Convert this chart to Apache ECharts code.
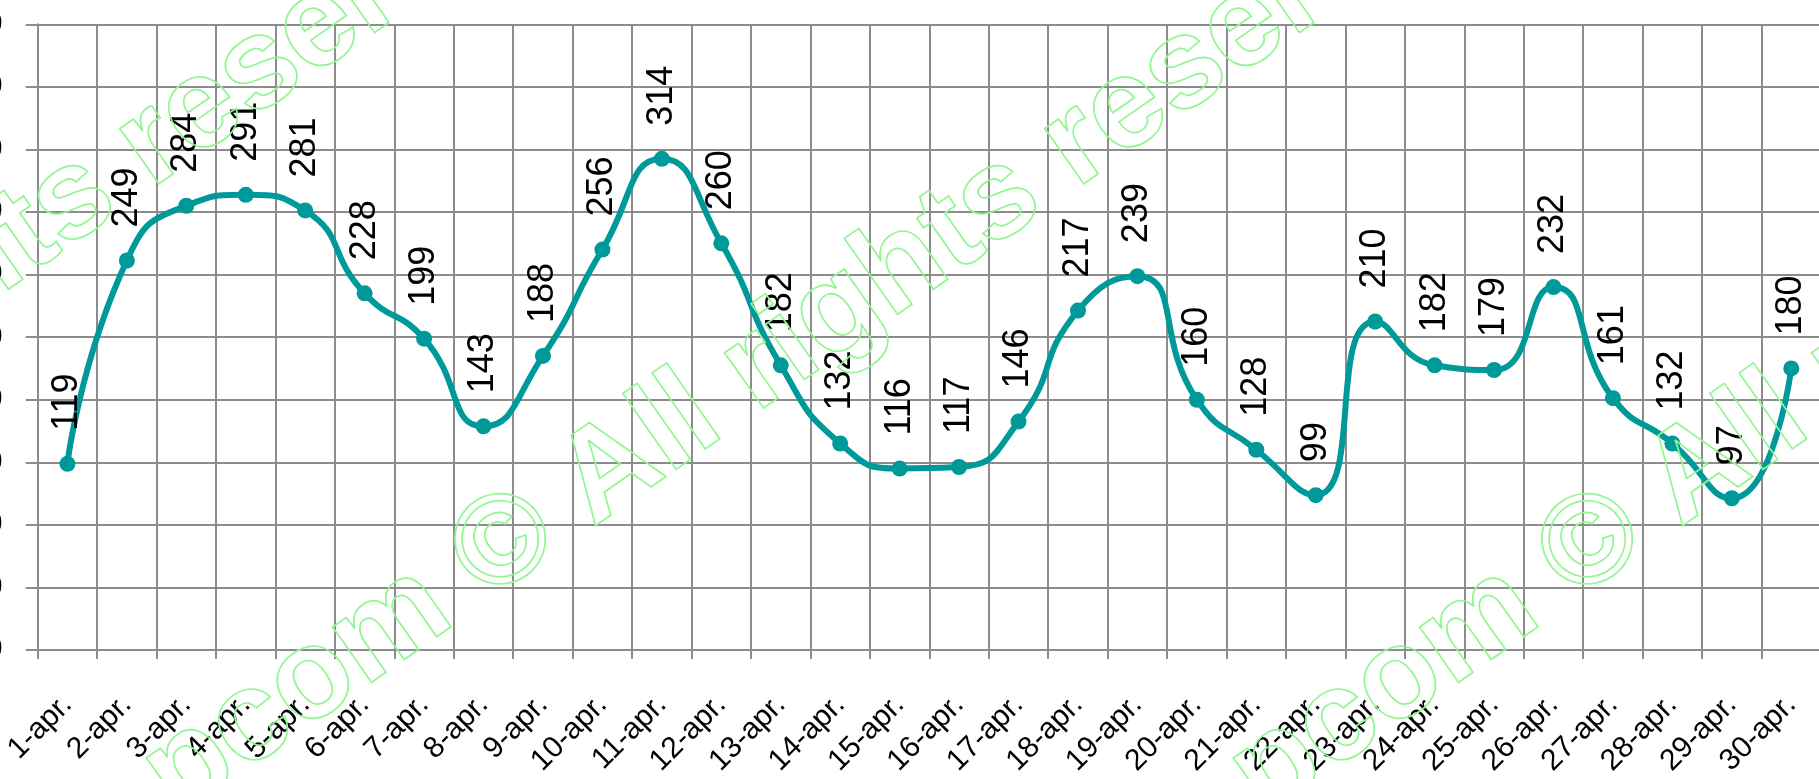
<!DOCTYPE html>
<html>
<head>
<meta charset="utf-8">
<script src="https://cdn.jsdelivr.net/npm/echarts@6/dist/echarts.min.js"></script>
<style>
html,body{margin:0;padding:0;background:#fff;}
#chart{width:1819px;height:779px;}
</style>
</head>
<body>
<div id="chart"></div>
<script>
const categories = ['1-apr.','2-apr.','3-apr.','4-apr.','5-apr.','6-apr.','7-apr.','8-apr.','9-apr.','10-apr.',
  '11-apr.','12-apr.','13-apr.','14-apr.','15-apr.','16-apr.','17-apr.','18-apr.','19-apr.','20-apr.',
  '21-apr.','22-apr.','23-apr.','24-apr.','25-apr.','26-apr.','27-apr.','28-apr.','29-apr.','30-apr.'];
const values = [119,249,284,291,281,228,199,143,188,256,314,260,182,132,116,117,146,217,239,160,128,99,210,182,179,232,161,132,97,180];
const yMin = 0, yMax = 400, yStep = 40;
const watermarkLeft = 'pcom ';
const watermarkRight = '\u00A9 All rights reserved';

const gridColor = '#8c8c8c';
const font = '"Liberation Sans", Arial, sans-serif';
const chart = echarts.init(document.getElementById('chart'), null, {renderer: 'canvas'});

// watermark: outlined light-green text, repeated
const ang = 35 * Math.PI / 180;
const wmSize = 128;
const wmCenters = [[-420, 546], [505, 546], [1592, 546]];
const graphics = [];
wmCenters.forEach(function (c) {
  const back = 0.368 * wmSize;
  const px = c[0] - back * Math.cos(ang);
  const py = c[1] + back * Math.sin(ang);
  [[watermarkLeft, 'right'], [watermarkRight, 'left']].forEach(function (p) {
    graphics.push({
      type: 'text', x: px, y: py, rotation: ang, silent: true, z: 100,
      style: {
        text: p[0], font: 'bold ' + wmSize + 'px ' + font,
        fill: 'none', stroke: '#93f593', lineWidth: 1.7,
        textAlign: p[1], textVerticalAlign: 'middle'
      }
    });
  });
});

chart.setOption({
  animation: false,
  backgroundColor: '#ffffff',
  grid: {left: 37.7, right: -2, top: 24.3, bottom: 129, containLabel: false, outerBoundsMode: 'none'},
  xAxis: {
    type: 'category', data: categories, boundaryGap: true,
    axisLine: {show: true, lineStyle: {color: gridColor, width: 2}},
    axisTick: {show: true, length: 9, lineStyle: {color: gridColor, width: 2}},
    splitLine: {show: true, lineStyle: {color: gridColor, width: 2}},
    axisLabel: {rotate: 45, fontSize: 30, color: '#000', fontFamily: font, margin: 50, interval: 0, hideOverlap: false}
  },
  yAxis: {
    type: 'value', min: yMin, max: yMax, interval: yStep,
    axisLine: {show: true, lineStyle: {color: gridColor, width: 2}},
    axisTick: {show: true, length: 12, lineStyle: {color: gridColor, width: 2}},
    splitLine: {show: true, lineStyle: {color: gridColor, width: 2}},
    axisLabel: {fontSize: 34, color: '#000', fontFamily: font, margin: 35}
  },
  graphic: graphics,
  series: [{
    type: 'line', data: values, smooth: 0.55,
    symbol: 'circle', symbolSize: 16,
    itemStyle: {color: '#009999'},
    lineStyle: {color: '#009999', width: 6},
    label: {
      show: true, position: 'top', rotate: 90, align: 'left', verticalAlign: 'middle',
      distance: 25, fontSize: 36, color: '#000', fontFamily: font
    }
  }]
});
</script>
</body>
</html>
